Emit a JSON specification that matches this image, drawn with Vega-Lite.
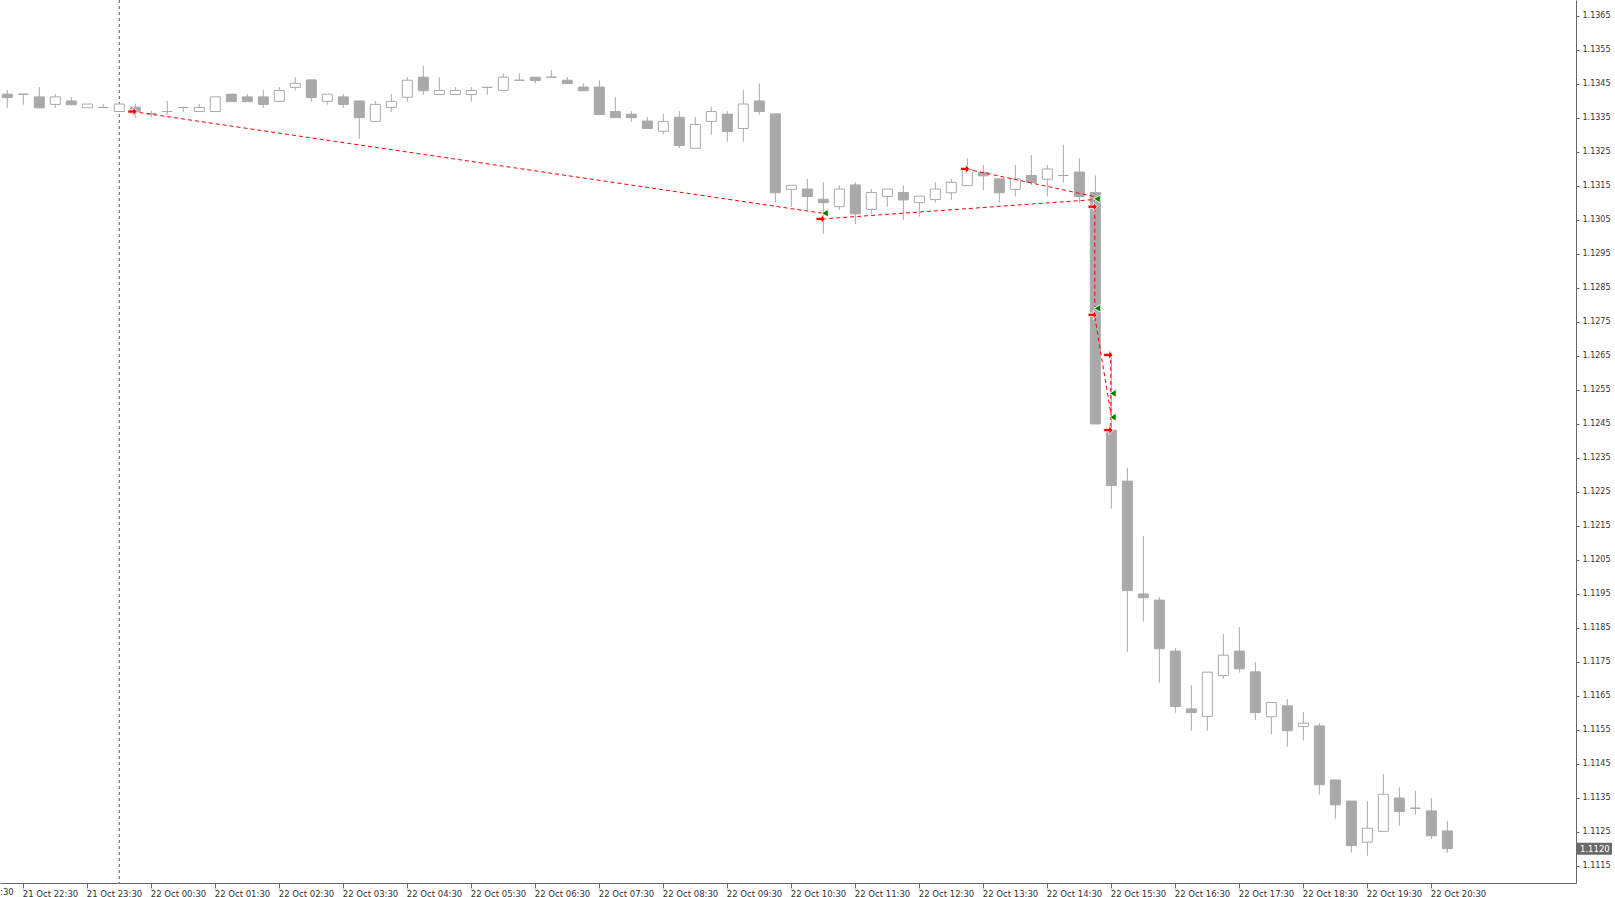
{
  "$schema": "https://vega.github.io/schema/vega-lite/v6.json",
  "width": 1576,
  "height": 883,
  "autosize": "none",
  "padding": {"left": 0, "top": 0, "right": 39, "bottom": 14},
  "background": "white",
  "config": {
    "view": {"stroke": null},
    "axis": {"title": null, "grid": false, "domainColor": "#666666", "tickColor": "#666666", "labelColor": "#333333", "labelFont": "DejaVu Sans", "labelOverlap": false, "labelBound": false, "labelFlush": false}
  },
  "datasets": {
    "candles": [
      {"t": "2019-10-21T22:15:00", "o": 1.13419, "h": 1.13431, "l": 1.13379, "c": 1.13409},
      {"t": "2019-10-21T22:30:00", "o": 1.13419, "h": 1.13419, "l": 1.13388, "c": 1.13419},
      {"t": "2019-10-21T22:45:00", "o": 1.13411, "h": 1.13440, "l": 1.13379, "c": 1.13379},
      {"t": "2019-10-21T23:00:00", "o": 1.13389, "h": 1.13420, "l": 1.13379, "c": 1.13411},
      {"t": "2019-10-21T23:15:00", "o": 1.13399, "h": 1.13411, "l": 1.13388, "c": 1.13388},
      {"t": "2019-10-21T23:30:00", "o": 1.13379, "h": 1.13390, "l": 1.13379, "c": 1.13390},
      {"t": "2019-10-21T23:45:00", "o": 1.13380, "h": 1.13390, "l": 1.13380, "c": 1.13380},
      {"t": "2019-10-22T00:00:00", "o": 1.13368, "h": 1.13390, "l": 1.13368, "c": 1.13390},
      {"t": "2019-10-22T00:15:00", "o": 1.13381, "h": 1.13391, "l": 1.13350, "c": 1.13368},
      {"t": "2019-10-22T00:30:00", "o": 1.13361, "h": 1.13370, "l": 1.13351, "c": 1.13361},
      {"t": "2019-10-22T00:45:00", "o": 1.13368, "h": 1.13399, "l": 1.13358, "c": 1.13368},
      {"t": "2019-10-22T01:00:00", "o": 1.13380, "h": 1.13380, "l": 1.13367, "c": 1.13380},
      {"t": "2019-10-22T01:15:00", "o": 1.13368, "h": 1.13390, "l": 1.13368, "c": 1.13380},
      {"t": "2019-10-22T01:30:00", "o": 1.13368, "h": 1.13411, "l": 1.13368, "c": 1.13411},
      {"t": "2019-10-22T01:45:00", "o": 1.13419, "h": 1.13419, "l": 1.13397, "c": 1.13397},
      {"t": "2019-10-22T02:00:00", "o": 1.13411, "h": 1.13420, "l": 1.13397, "c": 1.13397},
      {"t": "2019-10-22T02:15:00", "o": 1.13411, "h": 1.13431, "l": 1.13379, "c": 1.13389},
      {"t": "2019-10-22T02:30:00", "o": 1.13398, "h": 1.13440, "l": 1.13398, "c": 1.13430},
      {"t": "2019-10-22T02:45:00", "o": 1.13439, "h": 1.13469, "l": 1.13430, "c": 1.13451},
      {"t": "2019-10-22T03:00:00", "o": 1.13461, "h": 1.13461, "l": 1.13397, "c": 1.13409},
      {"t": "2019-10-22T03:15:00", "o": 1.13398, "h": 1.13419, "l": 1.13388, "c": 1.13419},
      {"t": "2019-10-22T03:30:00", "o": 1.13411, "h": 1.13420, "l": 1.13379, "c": 1.13389},
      {"t": "2019-10-22T03:45:00", "o": 1.13399, "h": 1.13399, "l": 1.13288, "c": 1.13350},
      {"t": "2019-10-22T04:00:00", "o": 1.13339, "h": 1.13399, "l": 1.13339, "c": 1.13389},
      {"t": "2019-10-22T04:15:00", "o": 1.13380, "h": 1.13420, "l": 1.13367, "c": 1.13398},
      {"t": "2019-10-22T04:30:00", "o": 1.13410, "h": 1.13469, "l": 1.13397, "c": 1.13460},
      {"t": "2019-10-22T04:45:00", "o": 1.13469, "h": 1.13502, "l": 1.13417, "c": 1.13429},
      {"t": "2019-10-22T05:00:00", "o": 1.13418, "h": 1.13469, "l": 1.13418, "c": 1.13430},
      {"t": "2019-10-22T05:15:00", "o": 1.13418, "h": 1.13440, "l": 1.13418, "c": 1.13430},
      {"t": "2019-10-22T05:30:00", "o": 1.13418, "h": 1.13440, "l": 1.13397, "c": 1.13430},
      {"t": "2019-10-22T05:45:00", "o": 1.13439, "h": 1.13439, "l": 1.13417, "c": 1.13439},
      {"t": "2019-10-22T06:00:00", "o": 1.13430, "h": 1.13480, "l": 1.13430, "c": 1.13469},
      {"t": "2019-10-22T06:15:00", "o": 1.13460, "h": 1.13480, "l": 1.13460, "c": 1.13460},
      {"t": "2019-10-22T06:30:00", "o": 1.13469, "h": 1.13469, "l": 1.13451, "c": 1.13459},
      {"t": "2019-10-22T06:45:00", "o": 1.13469, "h": 1.13490, "l": 1.13469, "c": 1.13469},
      {"t": "2019-10-22T07:00:00", "o": 1.13460, "h": 1.13469, "l": 1.13450, "c": 1.13450},
      {"t": "2019-10-22T07:15:00", "o": 1.13440, "h": 1.13451, "l": 1.13429, "c": 1.13429},
      {"t": "2019-10-22T07:30:00", "o": 1.13440, "h": 1.13460, "l": 1.13359, "c": 1.13359},
      {"t": "2019-10-22T07:45:00", "o": 1.13368, "h": 1.13411, "l": 1.13350, "c": 1.13350},
      {"t": "2019-10-22T08:00:00", "o": 1.13360, "h": 1.13369, "l": 1.13338, "c": 1.13350},
      {"t": "2019-10-22T08:15:00", "o": 1.13340, "h": 1.13352, "l": 1.13318, "c": 1.13318},
      {"t": "2019-10-22T08:30:00", "o": 1.13310, "h": 1.13361, "l": 1.13300, "c": 1.13339},
      {"t": "2019-10-22T08:45:00", "o": 1.13351, "h": 1.13369, "l": 1.13260, "c": 1.13268},
      {"t": "2019-10-22T09:00:00", "o": 1.13260, "h": 1.13352, "l": 1.13260, "c": 1.13330},
      {"t": "2019-10-22T09:15:00", "o": 1.13339, "h": 1.13381, "l": 1.13300, "c": 1.13368},
      {"t": "2019-10-22T09:30:00", "o": 1.13360, "h": 1.13369, "l": 1.13279, "c": 1.13309},
      {"t": "2019-10-22T09:45:00", "o": 1.13318, "h": 1.13431, "l": 1.13279, "c": 1.13390},
      {"t": "2019-10-22T10:00:00", "o": 1.13399, "h": 1.13451, "l": 1.13359, "c": 1.13368},
      {"t": "2019-10-22T10:15:00", "o": 1.13361, "h": 1.13361, "l": 1.13100, "c": 1.13129},
      {"t": "2019-10-22T10:30:00", "o": 1.13139, "h": 1.13151, "l": 1.13088, "c": 1.13151},
      {"t": "2019-10-22T10:45:00", "o": 1.13140, "h": 1.13170, "l": 1.13078, "c": 1.13118},
      {"t": "2019-10-22T11:00:00", "o": 1.13110, "h": 1.13160, "l": 1.13008, "c": 1.13100},
      {"t": "2019-10-22T11:15:00", "o": 1.13088, "h": 1.13151, "l": 1.13078, "c": 1.13140},
      {"t": "2019-10-22T11:30:00", "o": 1.13152, "h": 1.13160, "l": 1.13037, "c": 1.13067},
      {"t": "2019-10-22T11:45:00", "o": 1.13080, "h": 1.13140, "l": 1.13067, "c": 1.13130},
      {"t": "2019-10-22T12:00:00", "o": 1.13118, "h": 1.13140, "l": 1.13088, "c": 1.13140},
      {"t": "2019-10-22T12:15:00", "o": 1.13130, "h": 1.13151, "l": 1.13049, "c": 1.13108},
      {"t": "2019-10-22T12:30:00", "o": 1.13100, "h": 1.13119, "l": 1.13059, "c": 1.13119},
      {"t": "2019-10-22T12:45:00", "o": 1.13109, "h": 1.13160, "l": 1.13100, "c": 1.13140},
      {"t": "2019-10-22T13:00:00", "o": 1.13129, "h": 1.13170, "l": 1.13108, "c": 1.13160},
      {"t": "2019-10-22T13:15:00", "o": 1.13150, "h": 1.13230, "l": 1.13150, "c": 1.13198},
      {"t": "2019-10-22T13:30:00", "o": 1.13189, "h": 1.13211, "l": 1.13137, "c": 1.13179},
      {"t": "2019-10-22T13:45:00", "o": 1.13170, "h": 1.13170, "l": 1.13100, "c": 1.13129},
      {"t": "2019-10-22T14:00:00", "o": 1.13139, "h": 1.13211, "l": 1.13118, "c": 1.13170},
      {"t": "2019-10-22T14:15:00", "o": 1.13180, "h": 1.13240, "l": 1.13152, "c": 1.13159},
      {"t": "2019-10-22T14:30:00", "o": 1.13169, "h": 1.13211, "l": 1.13118, "c": 1.13199},
      {"t": "2019-10-22T14:45:00", "o": 1.13180, "h": 1.13270, "l": 1.13159, "c": 1.13180},
      {"t": "2019-10-22T15:00:00", "o": 1.13190, "h": 1.13230, "l": 1.13100, "c": 1.13118},
      {"t": "2019-10-22T15:15:00", "o": 1.13130, "h": 1.13180, "l": 1.12449, "c": 1.12449},
      {"t": "2019-10-22T15:30:00", "o": 1.12431, "h": 1.12659, "l": 1.12200, "c": 1.12268},
      {"t": "2019-10-22T15:45:00", "o": 1.12281, "h": 1.12320, "l": 1.11779, "c": 1.11959},
      {"t": "2019-10-22T16:00:00", "o": 1.11949, "h": 1.12120, "l": 1.11868, "c": 1.11938},
      {"t": "2019-10-22T16:15:00", "o": 1.11931, "h": 1.11940, "l": 1.11688, "c": 1.11788},
      {"t": "2019-10-22T16:30:00", "o": 1.11781, "h": 1.11790, "l": 1.11600, "c": 1.11618},
      {"t": "2019-10-22T16:45:00", "o": 1.11611, "h": 1.11681, "l": 1.11547, "c": 1.11600},
      {"t": "2019-10-22T17:00:00", "o": 1.11589, "h": 1.11719, "l": 1.11547, "c": 1.11719},
      {"t": "2019-10-22T17:15:00", "o": 1.11709, "h": 1.11831, "l": 1.11700, "c": 1.11769},
      {"t": "2019-10-22T17:30:00", "o": 1.11781, "h": 1.11852, "l": 1.11718, "c": 1.11729},
      {"t": "2019-10-22T17:45:00", "o": 1.11720, "h": 1.11749, "l": 1.11578, "c": 1.11600},
      {"t": "2019-10-22T18:00:00", "o": 1.11588, "h": 1.11630, "l": 1.11537, "c": 1.11630},
      {"t": "2019-10-22T18:15:00", "o": 1.11620, "h": 1.11640, "l": 1.11500, "c": 1.11547},
      {"t": "2019-10-22T18:30:00", "o": 1.11559, "h": 1.11602, "l": 1.11518, "c": 1.11569},
      {"t": "2019-10-22T18:45:00", "o": 1.11561, "h": 1.11569, "l": 1.11359, "c": 1.11388},
      {"t": "2019-10-22T19:00:00", "o": 1.11402, "h": 1.11402, "l": 1.11288, "c": 1.11329},
      {"t": "2019-10-22T19:15:00", "o": 1.11340, "h": 1.11340, "l": 1.11188, "c": 1.11209},
      {"t": "2019-10-22T19:30:00", "o": 1.11219, "h": 1.11340, "l": 1.11179, "c": 1.11260},
      {"t": "2019-10-22T19:45:00", "o": 1.11251, "h": 1.11420, "l": 1.11251, "c": 1.11360},
      {"t": "2019-10-22T20:00:00", "o": 1.11349, "h": 1.11381, "l": 1.11268, "c": 1.11309},
      {"t": "2019-10-22T20:15:00", "o": 1.11319, "h": 1.11370, "l": 1.11300, "c": 1.11319},
      {"t": "2019-10-22T20:30:00", "o": 1.11311, "h": 1.11349, "l": 1.11229, "c": 1.11238},
      {"t": "2019-10-22T20:45:00", "o": 1.11252, "h": 1.11281, "l": 1.11188, "c": 1.11200}
    ],
    "trades": [
      {"t1": "2019-10-22T00:12:30", "p1": 1.13368, "t2": "2019-10-22T10:59:00", "p2": 1.13069},
      {"t1": "2019-10-22T10:59:00", "p1": 1.13052, "t2": "2019-10-22T15:14:00", "p2": 1.13109},
      {"t1": "2019-10-22T13:14:00", "p1": 1.13199, "t2": "2019-10-22T15:14:00", "p2": 1.13118},
      {"t1": "2019-10-22T15:14:30", "p1": 1.13085, "t2": "2019-10-22T15:14:30", "p2": 1.12793},
      {"t1": "2019-10-22T15:14:30", "p1": 1.12764, "t2": "2019-10-22T15:30:00", "p2": 1.12472},
      {"t1": "2019-10-22T15:29:30", "p1": 1.12658, "t2": "2019-10-22T15:29:30", "p2": 1.12431}
    ],
    "opens": [
      {"t": "2019-10-22T00:12:20", "p": 1.13368},
      {"t": "2019-10-22T10:57:30", "p": 1.13052},
      {"t": "2019-10-22T13:12:50", "p": 1.13199},
      {"t": "2019-10-22T15:12:30", "p": 1.13088},
      {"t": "2019-10-22T15:12:30", "p": 1.12770},
      {"t": "2019-10-22T15:27:10", "p": 1.12652},
      {"t": "2019-10-22T15:27:10", "p": 1.12431}
    ],
    "closes": [
      {"t": "2019-10-22T11:01:30", "p": 1.13069},
      {"t": "2019-10-22T15:16:30", "p": 1.13111},
      {"t": "2019-10-22T15:16:50", "p": 1.12789},
      {"t": "2019-10-22T15:31:20", "p": 1.12539},
      {"t": "2019-10-22T15:31:20", "p": 1.12469}
    ],
    "last": [
      {"price": 1.1120, "label": "1.1120"}
    ],
    "cutlabel": [
      {"t": "2019-10-21T21:30:00", "price": 1.110725, "label": "21 Oct 21:30"}
    ],
    "separator": [
      {"t": "2019-10-22T00:00:00"}
    ]
  },
  "layer": [
    {
      "data": {"name": "candles"},
      "mark": {"type": "rule", "color": "#a9a9a9", "strokeWidth": 1},
      "encoding": {
        "x": {
          "field": "t", "type": "temporal",
          "scale": {"padding": 0, "domain": [{"year": 2019, "month": 10, "date": 21, "hours": 22, "minutes": 8, "seconds": 10}, {"year": 2019, "month": 10, "date": 22, "hours": 22, "minutes": 45, "seconds": 36}]},
          "axis": {
            "format": "%d %b %H:%M",
            "labelAlign": "left",
            "labelOffset": -1,
            "labelFontSize": 8.5,
            "labelPadding": 1,
            "labelOverlap": false,
            "tickCount": 60,
            "tickSize": 5,
            "values": [
              {"year": 2019, "month": 10, "date": 21, "hours": 22, "minutes": 30},
              {"year": 2019, "month": 10, "date": 21, "hours": 23, "minutes": 30},
              {"year": 2019, "month": 10, "date": 22, "hours": 0, "minutes": 30},
              {"year": 2019, "month": 10, "date": 22, "hours": 1, "minutes": 30},
              {"year": 2019, "month": 10, "date": 22, "hours": 2, "minutes": 30},
              {"year": 2019, "month": 10, "date": 22, "hours": 3, "minutes": 30},
              {"year": 2019, "month": 10, "date": 22, "hours": 4, "minutes": 30},
              {"year": 2019, "month": 10, "date": 22, "hours": 5, "minutes": 30},
              {"year": 2019, "month": 10, "date": 22, "hours": 6, "minutes": 30},
              {"year": 2019, "month": 10, "date": 22, "hours": 7, "minutes": 30},
              {"year": 2019, "month": 10, "date": 22, "hours": 8, "minutes": 30},
              {"year": 2019, "month": 10, "date": 22, "hours": 9, "minutes": 30},
              {"year": 2019, "month": 10, "date": 22, "hours": 10, "minutes": 30},
              {"year": 2019, "month": 10, "date": 22, "hours": 11, "minutes": 30},
              {"year": 2019, "month": 10, "date": 22, "hours": 12, "minutes": 30},
              {"year": 2019, "month": 10, "date": 22, "hours": 13, "minutes": 30},
              {"year": 2019, "month": 10, "date": 22, "hours": 14, "minutes": 30},
              {"year": 2019, "month": 10, "date": 22, "hours": 15, "minutes": 30},
              {"year": 2019, "month": 10, "date": 22, "hours": 16, "minutes": 30},
              {"year": 2019, "month": 10, "date": 22, "hours": 17, "minutes": 30},
              {"year": 2019, "month": 10, "date": 22, "hours": 18, "minutes": 30},
              {"year": 2019, "month": 10, "date": 22, "hours": 19, "minutes": 30},
              {"year": 2019, "month": 10, "date": 22, "hours": 20, "minutes": 30}
            ]
          }
        },
        "y": {
          "field": "l", "type": "quantitative",
          "scale": {"domain": [1.11099, 1.13696], "nice": false, "zero": false},
          "axis": {
            "orient": "right",
            "format": ".4f",
            "tickSize": 3,
            "labelPadding": 3,
            "labelFontSize": 8,
            "labelOverlap": false,
            "tickCount": 60,
            "values": [1.1115, 1.1125, 1.1135, 1.1145, 1.1155, 1.1165, 1.1175, 1.1185, 1.1195, 1.1205, 1.1215, 1.1225, 1.1235, 1.1245, 1.1255, 1.1265, 1.1275, 1.1285, 1.1295, 1.1305, 1.1315, 1.1325, 1.1335, 1.1345, 1.1355, 1.1365]
          }
        },
        "y2": {"field": "h"}
      }
    },
    {
      "data": {"name": "separator"},
      "mark": {"type": "rule", "color": "#555555", "strokeDash": [3, 3], "strokeWidth": 1},
      "encoding": {"x": {"field": "t", "type": "temporal"}}
    },
    {
      "data": {"name": "candles"},
      "mark": {"type": "bar", "size": 10, "stroke": "#a9a9a9", "strokeWidth": 1},
      "encoding": {
        "x": {"field": "t", "type": "temporal"},
        "y": {"field": "o", "type": "quantitative"},
        "y2": {"field": "c"},
        "fill": {"condition": {"test": "datum.c > datum.o", "value": "#ffffff"}, "value": "#a9a9a9"}
      }
    },
    {
      "data": {"name": "trades"},
      "mark": {"type": "rule", "color": "#ff0000", "strokeDash": [4, 3], "strokeWidth": 1},
      "encoding": {
        "x": {"field": "t1", "type": "temporal"},
        "x2": {"field": "t2"},
        "y": {"field": "p1", "type": "quantitative"},
        "y2": {"field": "p2"}
      }
    },
    {
      "data": {"name": "opens"},
      "mark": {"type": "point", "shape": "M-1,-0.35L0.15,-0.35L0.15,-1L1,0L0.15,1L0.15,0.35L-1,0.35Z", "size": 85, "filled": true, "fill": "#ff0000", "stroke": "#ffffff", "strokeWidth": 0.8, "opacity": 1},
      "encoding": {
        "x": {"field": "t", "type": "temporal"},
        "y": {"field": "p", "type": "quantitative"}
      }
    },
    {
      "data": {"name": "closes"},
      "mark": {"type": "point", "shape": "triangle-left", "size": 60, "filled": true, "fill": "#008000", "stroke": "#ffffff", "strokeWidth": 0.8, "opacity": 1},
      "encoding": {
        "x": {"field": "t", "type": "temporal"},
        "y": {"field": "p", "type": "quantitative"}
      }
    },
    {
      "data": {"name": "last"},
      "mark": {"type": "point", "shape": "M0,-1L6,-1L6,1L0,1Z", "size": 144, "filled": true, "fill": "#6a6a6a", "strokeWidth": 0, "opacity": 1, "clip": false},
      "encoding": {
        "x": {"datum": {"year": 2019, "month": 10, "date": 22, "hours": 22, "minutes": 45, "seconds": 36}, "type": "temporal"},
        "y": {"field": "price", "type": "quantitative"}
      }
    },
    {
      "data": {"name": "last"},
      "mark": {"type": "text", "align": "left", "baseline": "middle", "dx": 4, "color": "#ffffff", "font": "DejaVu Sans", "fontSize": 8.5},
      "encoding": {
        "x": {"datum": {"year": 2019, "month": 10, "date": 22, "hours": 22, "minutes": 45, "seconds": 36}, "type": "temporal"},
        "y": {"field": "price", "type": "quantitative"},
        "text": {"field": "label"}
      }
    },
    {
      "data": {"name": "cutlabel"},
      "mark": {"type": "text", "align": "left", "baseline": "middle", "dx": -1, "color": "#333333", "font": "DejaVu Sans", "fontSize": 8.5},
      "encoding": {
        "x": {"field": "t", "type": "temporal"},
        "y": {"field": "price", "type": "quantitative"},
        "text": {"field": "label"}
      }
    }
  ]
}
